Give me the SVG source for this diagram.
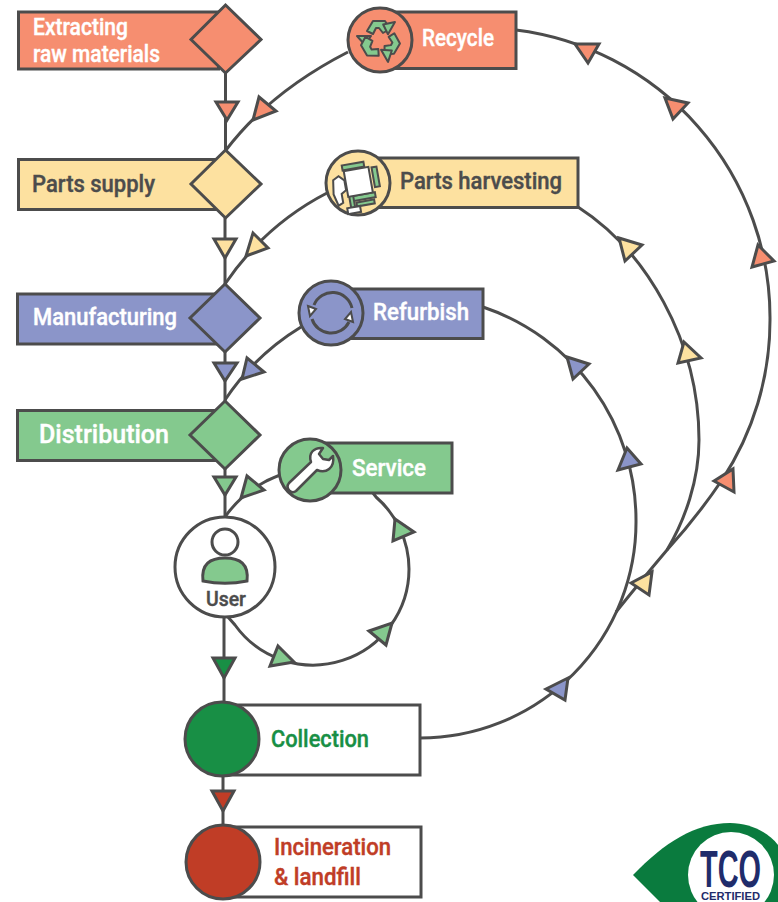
<svg xmlns="http://www.w3.org/2000/svg" xmlns:xlink="http://www.w3.org/1999/xlink" width="778" height="902" viewBox="0 0 778 902">
<style>
.o{stroke:#4c4c4c;stroke-width:3;stroke-linejoin:miter}
.n{fill:none;stroke:#4c4c4c;stroke-width:3}
.s{fill:#f68e70}.y{fill:#fde1a0}.b{fill:#8b95c9}.g{fill:#84c98e}.d{fill:#188f45}.r{fill:#c03d26}.w{fill:#fff}
text{font-family:Roboto,"Liberation Sans",sans-serif;font-weight:500;font-size:23px;stroke-width:.4px}
.tw{fill:#fff;stroke:#fff}.td{fill:#4c4c4c;stroke:#4c4c4c}.tg{fill:#188f45;stroke:#188f45}.tr{fill:#c03d26;stroke:#c03d26}
.logo{font-family:"Liberation Sans",sans-serif;font-weight:700;fill:#1f2c6b;stroke:none}
</style>
<rect width="778" height="902" fill="#fff"/>
<g id="connectors">
<path class="n" d="M225.500,73V150M225,218V284M225,352V401M225,469V517M224,617V703M223,776V826"/>
<path class="n" d="M348,52Q270,92 226,150M327,193Q265,225 225,284M301,327Q255,355 225,400M280,475Q245,488 225,517"/>
<path class="n" d="M516,30A290,290 0 0 1 770,320A290,290 0 0 1 722,480Q697,517 667,550Q640,582 616,612"/>
<path class="n" d="M578,207C645,250 699,340 699,440C699,480 685,520 667,550"/>
<path class="n" d="M483,307A225,225 0 0 1 636,520A216,216 0 0 1 420,738"/>
<path class="n" d="M228,617L235,625A96,96 0 0 0 409,569A96,96 0 0 0 376,497L373,493"/>
<g class="o">
<path class="s" d="M216,102H238L227,120Z"/><path class="s" d="M259,97L276,111L253,120Z"/>
<path class="y" d="M214,239H236L225,258Z"/><path class="y" d="M253,233L268,248L246,256Z"/>
<path class="b" d="M214,363H237L225,381Z"/><path class="b" d="M247,358L264,372L242,379Z"/>
<path class="g" d="M214,477H236L225,495Z"/><path class="g" d="M247,476L264,490L241,498Z"/>
<path class="d" d="M213,658H235L224,678Z"/><path class="r" d="M212,791H234L223,811Z"/>
<path class="s" d="M575,44H599L588,63Z"/><path class="s" d="M665,98L688,103L673,119Z"/><path class="s" d="M758,245L774,261L752,267Z"/><path class="s" d="M714,481L733,469L734,492Z"/>
<path class="y" d="M619,238L642,245L625,261Z"/><path class="y" d="M684,342L701,358L678,363Z"/><path class="y" d="M631,583L652,572L649,595Z"/>
<path class="b" d="M567,357L589,364L573,379Z"/><path class="b" d="M627,448L641,464L618,470Z"/><path class="b" d="M546,689L568,678L565,700Z"/>
<path class="g" d="M395,519L414,532L393,541Z"/><path class="g" d="M369,631L392,623L386,645Z"/><path class="g" d="M278,646L294,662L270,666Z"/>
</g>
</g>
<g id="extracting"><rect class="o s" x="18.500" y="12" width="200" height="57"/><path class="o s" d="M225.500,5L261,39.500L225.500,73L191,39.500Z"/><text class="tw" x="33" y="35" textLength="95" lengthAdjust="spacingAndGlyphs">Extracting</text><text class="tw" x="33" y="62" textLength="127" lengthAdjust="spacingAndGlyphs">raw materials</text></g>
<g id="parts-supply"><rect class="o y" x="18.500" y="159.500" width="200" height="50"/><path class="o y" d="M225.500,150L261,184L225.500,218L191,184Z"/><text class="td" x="32" y="192" textLength="123" lengthAdjust="spacingAndGlyphs">Parts supply</text></g>
<g id="manufacturing"><rect class="o b" x="17.500" y="294" width="200" height="50"/><path class="o b" d="M225,284L260,318L225,352L190,318Z"/><text class="tw" x="33" y="325" textLength="144" lengthAdjust="spacingAndGlyphs">Manufacturing</text></g>
<g id="distribution"><rect class="o g" x="17.500" y="410.500" width="200" height="50"/><path class="o g" d="M225,401L260,435L225,469L190,435Z"/><text class="tw" x="39" y="443" style="font-size:26px" textLength="130" lengthAdjust="spacingAndGlyphs">Distribution</text></g>
<defs>
<g id="rec"><path d="M-13,-9L-7,-19H5L10,-11L3,-7L-1,-12H-4L-7,-6Z"/><path d="M-23,-4L-9,-4L-15,5Z"/></g>
</defs>
<g id="recycle"><rect class="o s" x="380" y="12" width="136" height="56.500"/><circle class="o s" cx="380" cy="40" r="32"/>
<g class="g" stroke="#4c4c4c" stroke-width="2" stroke-linejoin="round" transform="translate(380,40)">
<use href="#rec"/><use href="#rec" transform="rotate(120)"/><use href="#rec" transform="rotate(240)"/>
</g>
<text class="tw" x="422" y="46" textLength="72" lengthAdjust="spacingAndGlyphs">Recycle</text></g>
<g id="parts-harvesting"><rect class="o y" x="360" y="158" width="218" height="49.500"/><circle class="o y" cx="358" cy="183" r="32"/>
<g stroke="#4c4c4c" stroke-width="2" transform="rotate(-10 358 183)">
<rect class="g" x="345" y="163" width="22" height="5"/><rect class="g" x="374" y="170" width="5" height="20"/><rect class="g" x="350" y="195" width="23" height="5"/><rect class="g" x="347" y="193" width="4" height="16"/><rect class="g" x="353" y="202" width="18" height="4"/>
<rect class="w" x="346" y="169" width="25" height="26"/>
<path class="w" d="M334,176L340,173L345,178V188L340,191V200L335,202L332,190Z"/>
<rect class="w" x="343" y="206" width="13" height="6"/>
</g>
<text class="td" x="400" y="189" textLength="162" lengthAdjust="spacingAndGlyphs">Parts harvesting</text></g>
<g id="refurbish"><rect class="o b" x="335" y="289" width="148" height="49.500"/><circle class="o b" cx="331" cy="313" r="32"/>
<path fill="none" stroke="#4c4c4c" stroke-width="3" d="M314,305A20,20 0 0 1 352,308M349,322A20,20 0 0 1 312,319"/>
<path class="w" stroke="#4c4c4c" stroke-width="2" d="M308,306L316,309L310,316ZM353,322L345,319L351,312Z"/>
<text class="tw" x="373" y="320" textLength="96" lengthAdjust="spacingAndGlyphs">Refurbish</text></g>
<g id="service"><rect class="o g" x="315" y="443" width="137" height="50"/><circle class="o g" cx="310" cy="470" r="31"/>
<path d="M289,483L311,462C308,453 314,447 323,448L319,454L323,459L329,460L333,456C335,468 326,474 317,470L296,491C291,495 285,488 289,483Z" fill="#fff" stroke="#4c4c4c" stroke-width="2.500" stroke-linejoin="round"/>
<text class="tw" x="352" y="476" textLength="74" lengthAdjust="spacingAndGlyphs">Service</text></g>
<g id="user"><circle class="o w" cx="225" cy="567" r="50"/><circle class="o w" cx="225" cy="542" r="13"/><path class="o g" d="M203,581C201,564 210,558 225,558C240,558 249,564 247,581C233,584 217,584 203,581Z"/><text class="td" x="206" y="606" style="font-size:20px" textLength="40" lengthAdjust="spacingAndGlyphs">User</text></g>
<g id="collection"><rect class="o w" x="225" y="705" width="195" height="70"/><circle class="o d" cx="222" cy="739" r="37"/><text class="tg" x="271" y="747" textLength="98" lengthAdjust="spacingAndGlyphs">Collection</text></g>
<g id="incineration"><rect class="o w" x="225" y="827" width="196" height="70"/><circle class="o r" cx="223" cy="862" r="37"/><text class="tr" x="274" y="855" textLength="117" lengthAdjust="spacingAndGlyphs">Incineration</text><text class="tr" x="274" y="885" textLength="87" lengthAdjust="spacingAndGlyphs">&amp; landfill</text></g>
<g id="tco-logo"><path fill="#0a7b3e" d="M633,875C665,842 695,823 730,823C750,823 768,832 778,845V902H660Z"/><circle class="w" cx="731" cy="875" r="43"/>
<text class="logo" x="700" y="887" style="font-size:52px" textLength="61" lengthAdjust="spacingAndGlyphs">TCO</text>
<text class="logo" x="701" y="900" style="font-size:11px" textLength="59" lengthAdjust="spacingAndGlyphs">CERTIFIED</text></g>
</svg>
